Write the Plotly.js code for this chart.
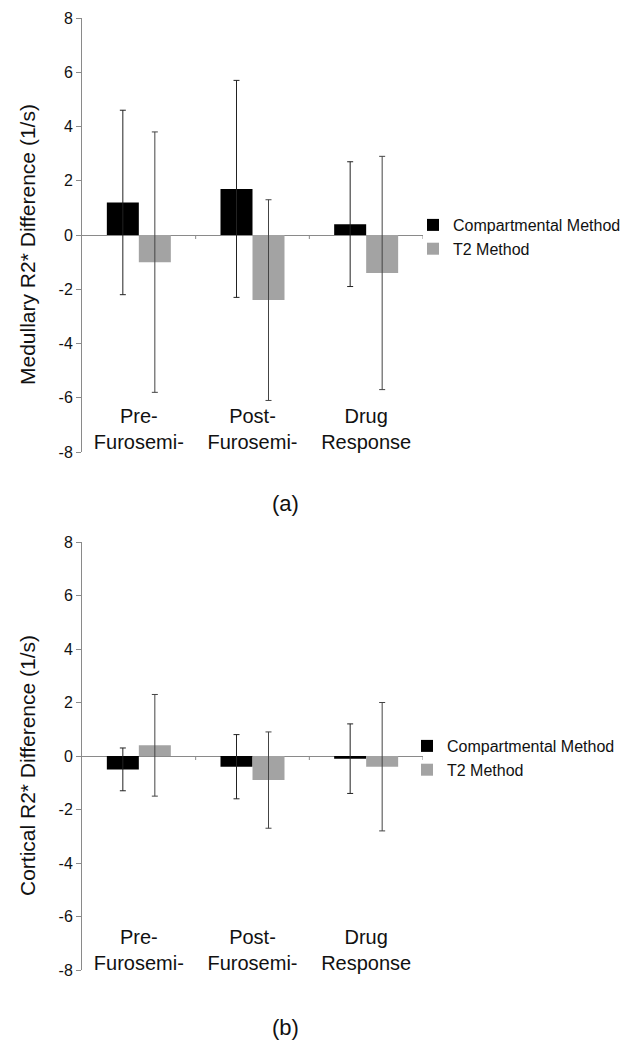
<!DOCTYPE html>
<html>
<head>
<meta charset="utf-8">
<script src="https://cdn.plot.ly/plotly-3.0.1.min.js"></script>
<style>html,body{margin:0;padding:0;background:#fff;}#chart{width:626px;height:1049px;}</style>
</head>
<body>
<div id="chart"></div>
<script>
// ---- data ----
const categories = ['Pre-<br>Furosemi-', 'Post-<br>Furosemi-', 'Drug<br>Response'];
const seriesNames = ['Compartmental Method', 'T2 Method'];

// Panel (a): Medullary R2* difference
const medCompartmental = [1.2, 1.7, 0.4];
const medCompartmentalErr = [3.4, 4.0, 2.3];
const medT2 = [-1.0, -2.4, -1.4];
const medT2Err = [4.8, 3.7, 4.3];

// Panel (b): Cortical R2* difference
const corCompartmental = [-0.5, -0.4, -0.1];
const corCompartmentalErr = [0.8, 1.2, 1.3];
const corT2 = [0.4, -0.9, -0.4];
const corT2Err = [1.9, 1.8, 2.4];

const yTickVals = [8, 6, 4, 2, 0, -2, -4, -6, -8];
const yTickText = ['8', '6', '4', '2', '0', '-2', '-4', '-6', '-8'];
const panelLabels = ['(a)', '(b)'];
const yTitles = ['Medullary R2* Difference (1/s)', 'Cortical R2* Difference (1/s)'];

// ---- style ----
const W = 626, H = 1049;
const FONT = '"Liberation Sans", Arial, sans-serif';
const BLACK = '#000000', GRAY = '#a3a3a3', AXIS = '#8a8a8a';
const px = v => v / W;
const py = v => 1 - v / H;

function bar(x, y, err, name, color, errColor, xa, ya, legend, show) {
  return {
    type: 'bar', x: x, y: y, name: name, xaxis: xa, yaxis: ya,
    legend: legend, showlegend: show,
    marker: {color: color, line: {width: 0}},
    error_y: {type: 'data', array: err, visible: true, color: errColor, thickness: 1, width: 3}
  };
}

const data = [
  bar(categories, medCompartmental, medCompartmentalErr, seriesNames[0], BLACK, '#222', 'x', 'y', 'legend', true),
  bar(categories, medT2, medT2Err, seriesNames[1], GRAY, '#444', 'x', 'y', 'legend', true),
  bar(categories, corCompartmental, corCompartmentalErr, seriesNames[0], BLACK, '#222', 'x2', 'y2', 'legend2', true),
  bar(categories, corT2, corT2Err, seriesNames[1], GRAY, '#444', 'x2', 'y2', 'legend2', true)
];

const xDomain = [px(82), px(423)];
function xaxis(pos) {
  return {
    domain: xDomain, range: [-0.5, categories.length - 0.5], type: 'category',
    anchor: 'free', position: pos, showline: false, ticks: '', showgrid: false, zeroline: false,
    tickfont: {family: FONT, size: 20, color: '#111'}, fixedrange: true
  };
}
function yaxis(dom, anchor) {
  return {
    domain: dom, range: [-8, 8], anchor: anchor,
    tickvals: yTickVals, ticktext: yTickText,
    showline: true, linecolor: AXIS, linewidth: 1,
    ticks: 'outside', ticklen: 5, tickcolor: AXIS, tickwidth: 1,
    showgrid: false, zeroline: true, zerolinecolor: AXIS, zerolinewidth: 1,
    tickfont: {family: FONT, size: 16, color: '#111'},
    fixedrange: true
  };
}

// small ticks on the zero line at category boundaries
const shapes = [];
[['x', 'y'], ['x2', 'y2']].forEach(([xr, yr]) => {
  categories.forEach((c, i) => {
    shapes.push({type: 'line', xref: xr, yref: yr, ysizemode: 'pixel', yanchor: 0,
      x0: i + 0.5, x1: i + 0.5, y0: 0, y1: -4, line: {color: AXIS, width: 1}});
  });
});

const textFont = s => ({family: FONT, size: s, color: '#111'});

const layout = {
  width: W, height: H,
  margin: {l: 0, r: 0, t: 0, b: 0},
  font: {family: FONT},
  paper_bgcolor: '#fff', plot_bgcolor: 'rgba(0,0,0,0)',
  barmode: 'group', bargap: 0.437, bargroupgap: 0,
  showlegend: true,
  xaxis: xaxis(py(402)),
  yaxis: yaxis([py(452), py(18)], 'x'),
  xaxis2: xaxis(py(923)),
  yaxis2: yaxis([py(970), py(542)], 'x2'),
  legend: {x: px(413), xanchor: 'left', y: py(208), yanchor: 'top', bgcolor: 'rgba(0,0,0,0)',
    font: textFont(16), tracegroupgap: 0, traceorder: 'normal'},
  legend2: {x: px(407), xanchor: 'left', y: py(729), yanchor: 'top', bgcolor: 'rgba(0,0,0,0)',
    font: textFont(16), tracegroupgap: 0, traceorder: 'normal'},
  shapes: shapes,
  annotations: [
    {text: yTitles[0], textangle: -90, xref: 'paper', yref: 'paper', x: px(27), y: py(245), xanchor: 'center', yanchor: 'middle', showarrow: false, font: textFont(21)},
    {text: yTitles[1], textangle: -90, xref: 'paper', yref: 'paper', x: px(27), y: py(766), xanchor: 'center', yanchor: 'middle', showarrow: false, font: textFont(21)},
    {text: panelLabels[0], xref: 'paper', yref: 'paper', x: px(285), y: py(503), xanchor: 'center', yanchor: 'middle', showarrow: false, font: textFont(22)},
    {text: panelLabels[1], xref: 'paper', yref: 'paper', x: px(285), y: py(1027), xanchor: 'center', yanchor: 'middle', showarrow: false, font: textFont(22)}
  ]
};

Plotly.newPlot('chart', data, layout, {displayModeBar: false, staticPlot: true});
</script>
</body>
</html>
